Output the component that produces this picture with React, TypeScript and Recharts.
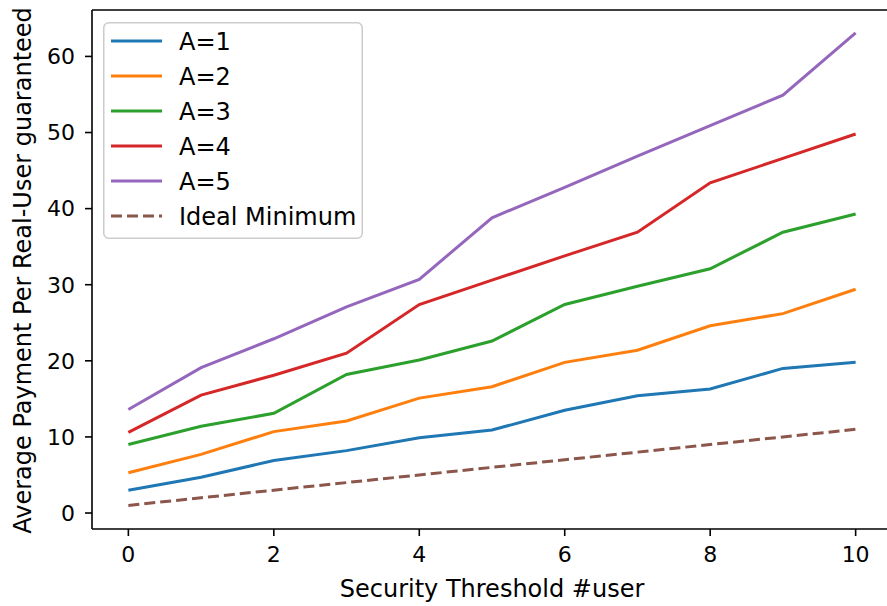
import { LineChart, Line, XAxis, YAxis, Legend, ReferenceLine, Label } from 'recharts';

const thresholds = [0, 1, 2, 3, 4, 5, 6, 7, 8, 9, 10];
const a1 = [3.0, 4.7, 6.9, 8.2, 9.9, 10.9, 13.5, 15.4, 16.3, 19.0, 19.8];
const a2 = [5.3, 7.7, 10.7, 12.1, 15.1, 16.6, 19.8, 21.4, 24.6, 26.2, 29.4];
const a3 = [9.0, 11.4, 13.1, 18.2, 20.1, 22.6, 27.4, 29.8, 32.1, 36.9, 39.3];
const a4 = [10.6, 15.5, 18.1, 21.0, 27.4, 30.6, 33.8, 36.9, 43.4, 46.6, 49.8];
const a5 = [13.6, 19.1, 22.9, 27.1, 30.7, 38.8, 42.8, 46.9, 50.9, 54.9, 63.1];
const idealMin = [1, 2, 3, 4, 5, 6, 7, 8, 9, 10, 11];

const xTicks = [0, 2, 4, 6, 8, 10];
const yTicks = [0, 10, 20, 30, 40, 50, 60];

const FONT = '"DejaVu Sans", sans-serif';

const series = [
  { key: 'a1', name: 'A=1', color: '#1f77b4', dashed: false },
  { key: 'a2', name: 'A=2', color: '#ff7f0e', dashed: false },
  { key: 'a3', name: 'A=3', color: '#2ca02c', dashed: false },
  { key: 'a4', name: 'A=4', color: '#d62728', dashed: false },
  { key: 'a5', name: 'A=5', color: '#9467bd', dashed: false },
  { key: 'ideal', name: 'Ideal Minimum', color: '#8c564b', dashed: true },
];

const data = thresholds.map((t, i) => ({
  t,
  a1: a1[i],
  a2: a2[i],
  a3: a3[i],
  a4: a4[i],
  a5: a5[i],
  ideal: idealMin[i],
}));

function LegendBox() {
  return (
    <svg width={260} height={217} style={{ display: 'block' }}>
      <rect x={0.75} y={0.75} width={258.5} height={215.5} rx={5} fill="white" fillOpacity={0.8} stroke="#cccccc" strokeWidth={1.5} />
      {series.map((s, i) => (
        <g key={s.key}>
          <line
            x1={8}
            x2={59}
            y1={19 + 35 * i}
            y2={19 + 35 * i}
            stroke={s.color}
            strokeWidth={3}
            strokeDasharray={s.dashed ? '11 5' : undefined}
          />
          <text x={76} y={19 + 35 * i} dy="0.365em" fontSize={24} fontFamily={FONT} fill="#000">
            {s.name}
          </text>
        </g>
      ))}
    </svg>
  );
}

function YTitle(props: any) {
  const vb = props.viewBox || { y: 10, height: 519 };
  const cy = vb.y + vb.height / 2 + 1;
  return (
    <text transform={`translate(31, ${cy}) rotate(-90)`} textAnchor="middle" fontSize={24} fontFamily={FONT} fill="#000">
      Average Payment Per Real-User guaranteed
    </text>
  );
}

export default function App() {
  const tickStyle = { fontSize: 22, fontFamily: FONT, fill: '#000' };
  return (
    <div style={{ position: 'absolute', left: 0, top: 0, width: 887, height: 606, overflow: 'hidden', background: 'white' }}>
      <LineChart width={895} height={606} data={data} margin={{ top: 10, right: 3, bottom: 0, left: 0 }}>
        <XAxis
          dataKey="t"
          type="number"
          domain={[-0.5, 10.5]}
          ticks={xTicks}
          height={77}
          tick={tickStyle}
          tickSize={7}
          tickMargin={10}
          axisLine={{ stroke: '#000', strokeWidth: 1.6 }}
          tickLine={{ stroke: '#000', strokeWidth: 1.6 }}
        >
          <Label value="Security Threshold #user" position="insideBottom" offset={9.5} style={{ fontSize: 24, fontFamily: FONT, fill: '#000' }} />
        </XAxis>
        <YAxis
          type="number"
          domain={[-2.1, 66.1]}
          ticks={yTicks}
          width={92}
          tick={tickStyle}
          tickSize={7}
          tickMargin={10}
          axisLine={{ stroke: '#000', strokeWidth: 1.6 }}
          tickLine={{ stroke: '#000', strokeWidth: 1.6 }}
        >
          <Label content={<YTitle />} />
        </YAxis>
        <ReferenceLine y={66.1} stroke="#000" strokeWidth={1.6} />
        <ReferenceLine x={10.5} stroke="#000" strokeWidth={1.6} />
        <Legend
          layout="vertical"
          align="center"
          verticalAlign="middle"
          content={<LegendBox />}
          wrapperStyle={{ left: 103, top: 22, width: 260, height: 217 }}
        />
        {series.map((s) => (
          <Line
            key={s.key}
            type="linear"
            dataKey={s.key}
            name={s.name}
            stroke={s.color}
            strokeWidth={3}
            strokeDasharray={s.dashed ? '11 5' : undefined}
            dot={false}
            activeDot={false}
            isAnimationActive={false}
          />
        ))}
      </LineChart>
    </div>
  );
}
